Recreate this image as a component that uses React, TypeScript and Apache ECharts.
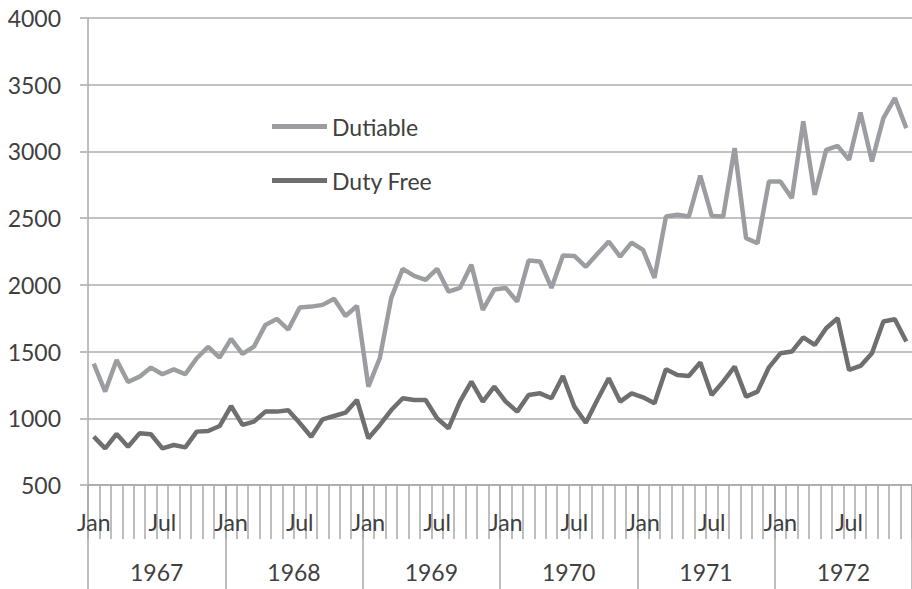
import React, { useEffect, useRef } from "react";
import * as echarts from "echarts";

const years = ["1967", "1968", "1969", "1970", "1971", "1972"];
const monthNames = ["Jan", "Feb", "Mar", "Apr", "May", "Jun", "Jul", "Aug", "Sep", "Oct", "Nov", "Dec"];
const shownMonths = ["Jan", "Jul"];

const dutiable = [
  1410, 1200, 1437, 1272, 1312, 1380, 1330, 1367, 1330, 1450, 1535, 1455,
  1595, 1482, 1537, 1700, 1745, 1665, 1830, 1837, 1850, 1895, 1767, 1842,
  1237, 1452, 1902, 2120, 2067, 2037, 2120, 1950, 1977, 2150, 1812, 1965,
  1977, 1875, 2182, 2175, 1977, 2220, 2217, 2135, 2232, 2325, 2212, 2317,
  2262, 2052, 2512, 2525, 2512, 2818, 2517, 2512, 3025, 2350, 2312, 2775,
  2775, 2650, 3225, 2675, 3012, 3042, 2937, 3292, 2925, 3250, 3400, 3175,
];

const dutyFree = [
  862, 775, 882, 787, 887, 880, 775, 800, 782, 900, 905, 942,
  1092, 950, 975, 1050, 1050, 1060, 965, 862, 992, 1017, 1042, 1137,
  850, 950, 1062, 1150, 1137, 1137, 1000, 925, 1125, 1275, 1125, 1237,
  1125, 1050, 1175, 1187, 1150, 1317, 1087, 967, 1137, 1300, 1125, 1187,
  1157, 1112, 1367, 1325, 1317, 1418, 1175, 1275, 1387, 1162, 1200, 1382,
  1487, 1500, 1607, 1550, 1675, 1750, 1362, 1392, 1487, 1725, 1742, 1575,
];

const yMin = 500;
const yMax = 4000;
const yInterval = 500;

const categories: string[] = [];
years.forEach((y) => monthNames.forEach((m) => categories.push(m + " " + y)));

export default function App() {
  const ref = useRef<HTMLDivElement>(null);
  useEffect(() => {
    if (!ref.current) return;
    const chart = echarts.init(ref.current, undefined, { renderer: "svg" });
    const font = "Lato, 'Open Sans', sans-serif";
    const textColor = "#404040";
    const axisGray = "#a8a8a8";
    chart.setOption({
      animation: false,
      backgroundColor: "#ffffff",
      grid: { left: 88, top: 18, width: 830, bottom: 104, containLabel: false },
      legend: {
        data: ["Dutiable", "Duty Free"],
        orient: "vertical",
        left: 272,
        top: 115,
        padding: 0,
        icon: "rect",
        itemWidth: 55,
        itemHeight: 5,
        itemGap: 31,
        textStyle: { fontFamily: font, fontSize: 23, color: textColor },
      },
      xAxis: [
        {
          type: "category",
          data: categories,
          boundaryGap: true,
          axisLine: { show: true, lineStyle: { color: axisGray, width: 1.5 } },
          axisTick: { show: true, interval: 0, length: 54, lineStyle: { color: axisGray, width: 1.5 } },
          axisLabel: {
            interval: 0,
            margin: 25,
            fontFamily: font,
            fontSize: 23,
            color: textColor,
            formatter: (v: string) => {
              const m = v.split(" ")[0];
              return shownMonths.indexOf(m) >= 0 ? m : "";
            },
          },
          splitLine: { show: false },
        },
        {
          type: "category",
          data: years,
          position: "bottom",
          boundaryGap: true,
          axisLine: { show: false },
          axisTick: { show: true, interval: 0, length: 104, lineStyle: { color: axisGray, width: 1.5 } },
          axisLabel: { interval: 0, margin: 75, fontFamily: font, fontSize: 23, color: textColor },
          splitLine: { show: false },
        },
      ],
      yAxis: {
        type: "value",
        min: yMin,
        max: yMax,
        interval: yInterval,
        axisLine: { show: true, lineStyle: { color: axisGray, width: 1.5 } },
        axisTick: { show: true, length: 8, lineStyle: { color: "#bdbdbd", width: 2 } },
        axisLabel: {
          margin: 27,
          fontFamily: font,
          fontSize: 23,
          color: textColor,
          formatter: (v: number) => String(v),
        },
        splitLine: { show: true, lineStyle: { color: "#c2c2c2", width: 2 } },
      },
      series: [
        {
          name: "Dutiable",
          type: "line",
          data: dutiable,
          symbol: "none",
          xAxisIndex: 0,
          lineStyle: { color: "#9c9da1", width: 4.5 },
          itemStyle: { color: "#9c9da1" },
        },
        {
          name: "Duty Free",
          type: "line",
          data: dutyFree,
          symbol: "none",
          xAxisIndex: 0,
          lineStyle: { color: "#6f6f72", width: 4.5 },
          itemStyle: { color: "#6f6f72" },
        },
      ],
    });
    return () => chart.dispose();
  }, []);
  return (
    <div
      ref={ref}
      style={{ position: "fixed", left: 0, top: 0, width: 912, height: 589, background: "#fff" }}
    />
  );
}
